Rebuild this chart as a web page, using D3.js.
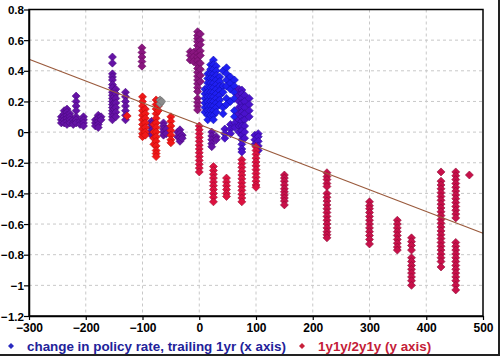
<!DOCTYPE html>
<html><head><meta charset="utf-8">
<script src="https://cdn.jsdelivr.net/npm/d3@7"></script>
<style>html,body{margin:0;padding:0;background:#fff;}svg{display:block;}</style>
</head><body>
<svg id="c" width="500" height="356"></svg>
<script>
// ---- data: columns of points [x (bp), [y values]] ----
const xTicks = [-300,-200,-100,0,100,200,300,400,500];
const yTicks = [0.8,0.6,0.4,0.2,0,-0.2,-0.4,-0.6,-0.8,-1,-1.2];
const legendLabels = ["change in policy rate, trailing 1yr (x axis)", "1y1y/2y1y (y axis)"];
const trendX = [-300, 500];
const trendY = [0.475, -0.66];

const purplePts = [
  [-243,[0.10,0.08,0.06]],
  [-238,[0.14,0.12,0.10,0.08,0.06]],
  [-233,[0.15,0.13,0.11,0.09,0.07,0.05]],
  [-228,[0.12,0.10,0.08,0.06]],
  [-222,[0.08,0.06,0.05]],
  [-217,[0.235,0.20,0.17,0.14,0.10,0.08,0.06]],
  [-210,[0.07,0.05]],
  [-204,[0.10,0.08,0.06,0.04]],
  [-183,[0.08,0.06,0.04]],
  [-178,[0.11,0.09,0.07,0.05,0.03]],
  [-173,[0.10,0.08]],
  [-153,[0.49,0.45,0.38,0.36,0.34,0.31,0.29,0.26,0.24,0.22,0.20,0.18,0.16,0.14,0.12,0.10,0.08]],
  [-150,[0.27,0.23,0.19,0.15]],
  [-147,[0.28,0.25,0.22,0.19,0.16,0.13,0.10]],
  [-130,[0.26,0.23,0.20,0.17,0.14,0.11,0.08]],
  [-84,[0.07,0.05,0.03,0.01,-0.01,-0.02]],
  [-63,[0.06,0.04,0.02,0.0,-0.02]],
  [-58,[0.02,-0.01]],
  [-38,[0.0,-0.03]],
  [-34,[0.015,-0.01,-0.035,-0.06]],
  [-30,[-0.02,-0.04]],
  [22,[0.0,-0.025,-0.05,-0.075,-0.095]],
  [30,[-0.03,-0.05]]
];
const plumPts = [
  [-101,[0.55,0.52,0.49,0.46,0.43]],
  [-16,[0.525,0.50,0.47]],
  [-10,[0.52,0.49,0.46]],
  [-3,[0.655,0.63,0.61,0.59,0.565,0.54,0.515,0.49,0.465,0.44,0.415,0.39,0.365,0.34,0.315,0.29,0.265,0.22,0.195,0.17,0.145]],
  [2,[0.64,0.60,0.57,0.53,0.50,0.45,0.41,0.37,0.33]]
];
const bluePts = [
  [10,[0.28,0.25,0.22,0.19,0.16,0.13]],
  [15,[0.38,0.35,0.32,0.29,0.26,0.23,0.20,0.17,0.14,0.11,0.08]],
  [20,[0.44,0.41,0.38,0.35,0.32,0.29,0.26,0.23,0.20,0.17,0.14,0.11]],
  [25,[0.47,0.44,0.41,0.38,0.35,0.32,0.29,0.26,0.23,0.20,0.17,0.14,0.11,0.08]],
  [30,[0.43,0.40,0.37,0.34,0.31,0.28,0.25,0.22,0.19,0.16,0.13]],
  [36,[0.36,0.33,0.30,0.27,0.24,0.21,0.18]],
  [42,[0.40,0.30,0.26,0.16,0.12]],
  [48,[0.42,0.38,0.34,0.30,0.22,0.18]],
  [55,[0.36,0.32,0.28,0.20]],
  [62,[0.34,0.30,0.26,0.22,0.14,0.10]]
];
const indigoPts = [
  [45,[0.02,-0.01,-0.04]],
  [55,[0.05,0.02,-0.01]],
  [63,[0.06,0.03]],
  [70,[0.28,0.24,0.20,0.16,0.12,0.08,0.04,0.0]],
  [75,[0.275,0.25,0.22,0.19,0.16,0.13,0.10,0.07,0.04,0.01,-0.02,-0.05,-0.08,-0.11,-0.13]],
  [80,[0.24,0.20,0.16,0.12,0.08,0.04,0.0,-0.04]],
  [88,[0.22,0.18,0.14,0.10]],
  [98,[-0.02,-0.05,-0.08]],
  [104,[-0.01,-0.03,-0.06,-0.09,-0.12]]
];
const redPts = [
  [-127,[0.105]],
  [-100,[0.23,0.20,0.17,0.14,0.11,0.08,0.05,0.02,-0.01,-0.03]],
  [-95,[0.15,0.12,0.09,0.06,0.03,0.0,-0.02]],
  [-80,[0.05,0.0,-0.04,-0.08]],
  [-76,[0.21,0.18,0.15,0.12,0.09,0.06,0.03,0.0,-0.03,-0.06,-0.09,-0.12,-0.14,-0.16]],
  [-72,[0.20,0.17,0.14]],
  [-50,[0.10,0.07,0.04,0.01,-0.02,-0.05,-0.07]]
];
const rosePts = [
  [0,[0.04,0.015,-0.01,-0.035,-0.06,-0.085,-0.11,-0.135,-0.16,-0.185,-0.21,-0.235,-0.26]],
  [25,[-0.225,-0.25,-0.275,-0.30,-0.325,-0.35,-0.375,-0.40,-0.425,-0.455]],
  [48,[-0.30,-0.325,-0.35,-0.375,-0.40,-0.42]],
  [75,[-0.18,-0.205,-0.23,-0.255,-0.28,-0.305,-0.33,-0.355,-0.38,-0.405,-0.43,-0.455]],
  [100,[-0.095,-0.12,-0.145,-0.17,-0.195,-0.22,-0.245,-0.27,-0.295,-0.32,-0.345,-0.36]]
];
const crimsonPts = [
  [150,[-0.28,-0.30,-0.32,-0.345,-0.37,-0.39,-0.41,-0.43,-0.45,-0.475]],
  [225,[-0.265,-0.29,-0.31,-0.335,-0.355,-0.40,-0.425,-0.45,-0.475,-0.50,-0.525,-0.55,-0.575,-0.60,-0.625,-0.65,-0.67,-0.69]],
  [300,[-0.455,-0.48,-0.50,-0.525,-0.55,-0.575,-0.60,-0.625,-0.65,-0.675,-0.70,-0.73]],
  [349,[-0.575,-0.60,-0.625,-0.65,-0.675,-0.70,-0.725,-0.75,-0.77]],
  [374,[-0.69,-0.715,-0.74,-0.77,-0.82,-0.845,-0.87,-0.895,-0.92,-0.945,-0.97,-1.0]],
  [426,[-0.26,-0.32,-0.345,-0.37,-0.395,-0.42,-0.445,-0.47,-0.495,-0.52,-0.545,-0.57,-0.595,-0.62,-0.645,-0.67,-0.695,-0.72,-0.745,-0.77,-0.795,-0.82,-0.845,-0.88]],
  [452,[-0.26,-0.285,-0.31,-0.335,-0.36,-0.385,-0.41,-0.435,-0.46,-0.485,-0.51,-0.535,-0.56,-0.72,-0.745,-0.77,-0.795,-0.82,-0.845,-0.87,-0.895,-0.92,-0.945,-0.97,-1.0,-1.03]],
  [476,[-0.28]]
];
const greyPts = [
  [-69,[0.21,0.185]],
  [-66,[0.20]]
];

// ---- layout ----
const L = 29, R = 483, T = 9.5, B = 316;
const svg = d3.select("#c");
const x = d3.scaleLinear().domain([-300,500]).range([L,R]);
const y = d3.scaleLinear().domain([-1.2,0.8]).range([B,T]);

// grid
const g = svg.append("g");
g.selectAll(".vg").data(xTicks.slice(1,-1)).enter().append("line")
  .attr("x1",d=>x(d)).attr("x2",d=>x(d)).attr("y1",T).attr("y2",B)
  .attr("stroke","#c8c8c8").attr("stroke-dasharray","3,3");
g.selectAll(".hg").data(yTicks.slice(1,-1)).enter().append("line")
  .attr("y1",d=>y(d)).attr("y2",d=>y(d)).attr("x1",L).attr("x2",R)
  .attr("stroke","#c8c8c8").attr("stroke-dasharray","3,3");

// points
const diamond = "M0,-4L4,0L0,4L-4,0Z";
function flat(cols){ const out=[]; cols.forEach(c=>c[1].forEach(v=>out.push([c[0],v]))); return out; }
const groups = [
  [purplePts,"#6512a6","#4a0a80"],
  [plumPts,"#8a1680","#6a0c60"],
  [bluePts,"#1f1ff2","#1010b0"],
  [indigoPts,"#4a12cc","#300a96"],
  [redPts,"#f01818","#c00c0c"],
  [rosePts,"#dc1240","#a00a30"],
  [crimsonPts,"#c8104a","#8e0a34"],
  [greyPts,"#8c8c8c","#6a6a6a"]
];
groups.forEach(([cols,fill,stroke])=>{
  svg.append("g").selectAll("path").data(flat(cols)).enter().append("path")
    .attr("d",diamond).attr("transform",d=>`translate(${x(d[0])},${y(d[1])})`)
    .attr("fill",fill).attr("stroke",stroke).attr("stroke-width",0.6);
});

// trend line
svg.append("line").attr("x1",x(trendX[0])).attr("y1",y(trendY[0]))
  .attr("x2",x(trendX[1])).attr("y2",y(trendY[1]))
  .attr("stroke","#9a5a3c").attr("stroke-width",1.2);

// frame
svg.append("rect").attr("x",L).attr("y",T).attr("width",R-L).attr("height",B-T)
  .attr("fill","none").attr("stroke","#000").attr("stroke-width",1.5);

// axes
const fontFam = "'Liberation Sans', Arial, sans-serif";
const xa = svg.append("g").attr("transform",`translate(0,${B})`)
  .call(d3.axisBottom(x).tickValues(xTicks).tickSize(4).tickSizeOuter(0).tickFormat(d3.format("d")));
const ya = svg.append("g").attr("transform",`translate(${L},0)`)
  .call(d3.axisLeft(y).tickValues(yTicks).tickSize(5).tickSizeOuter(0).tickFormat(d=>d===0?"0":d3.format("")(d)));
[xa,ya].forEach(a=>{
  a.select(".domain").attr("stroke","#000").attr("stroke-width",1.5);
  a.selectAll(".tick line").attr("stroke","#000").attr("stroke-width",1.2);
  a.selectAll("text").attr("fill","#000").style("font-family",fontFam)
   .style("font-size","12px").style("font-weight","bold");
});
xa.selectAll("text").attr("dy","0.95em").attr("y",5);
ya.selectAll("text").attr("x",-5).attr("dy","0.35em").style("font-size","11.6px");

// legend
const lg = svg.append("g");
lg.append("path").attr("d","M0,-3L3,0L0,3L-3,0Z").attr("transform","translate(11,346)").attr("fill","#2a2ac0");
lg.append("text").attr("x",27).attr("y",350.5).text(legendLabels[0])
  .attr("fill","#22229a").style("font-family",fontFam).style("font-size","13.4px").style("font-weight","bold");
lg.append("path").attr("d","M0,-3L3,0L0,3L-3,0Z").attr("transform","translate(302,346)").attr("fill","#c8203a");
lg.append("text").attr("x",318).attr("y",350.5).text(legendLabels[1])
  .attr("fill","#c42038").style("font-family",fontFam).style("font-size","13.4px").style("font-weight","bold");

// outer shadow edges
svg.append("line").attr("x1",499).attr("x2",499).attr("y1",0).attr("y2",356).attr("stroke","#222").attr("stroke-width",2);
svg.append("line").attr("x1",0).attr("x2",500).attr("y1",355).attr("y2",355).attr("stroke","#222").attr("stroke-width",2);
</script>
</body></html>
